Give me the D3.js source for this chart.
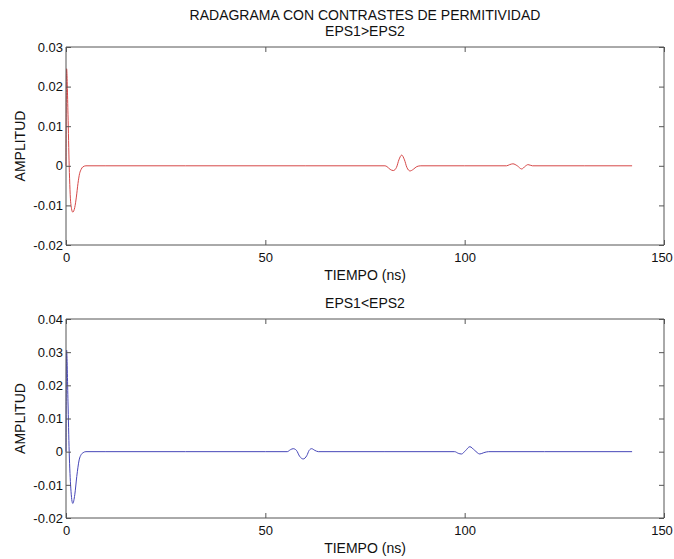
<!DOCTYPE html>
<html>
<head>
<meta charset="utf-8">
<script src="https://cdn.jsdelivr.net/npm/d3@7"></script>
<style>
  html, body { margin: 0; padding: 0; background: #fff; }
  svg { display: block; }
  text { font-family: "Liberation Sans", Arial, sans-serif; fill: #111; }
</style>
</head>
<body>
<svg id="chart" width="674" height="559"></svg>
<script>
// ---- Data ----
const mainTitle = "RADAGRAMA CON CONTRASTES DE PERMITIVIDAD";
const titles = ["EPS1>EPS2", "EPS1<EPS2"];
const xLabel = "TIEMPO (ns)";
const yLabel = "AMPLITUD";
const xTicks = [0, 50, 100, 150];
const yTicksTop = [-0.02, -0.01, 0, 0.01, 0.02, 0.03];
const yTicksBottom = [-0.02, -0.01, 0, 0.01, 0.02, 0.03, 0.04];

// time (ns) samples and amplitudes for EPS1>EPS2 (red)
const timeTop = [0, 0.15, 0.5, 0.8, 1.2, 1.7, 2.2, 2.6, 3.0, 3.4, 3.8, 4.2, 5, 10, 30, 60,
  80, 80.5, 81.3, 82.1, 82.9, 83.5, 84.2, 84.9, 85.5, 86.3, 87.1, 88, 89, 100,
  110.5, 111.3, 112.1, 113.2, 114.3, 115.2, 115.9, 117, 130, 142];
const ampTop = [0.0, 0.0245, 0.013, 0.0, -0.0095, -0.0117, -0.0105, -0.0079, -0.0045, -0.002, -0.0009, -0.0003, 0, 0, 0, 0,
  0, -0.0002, -0.0009, -0.0012, -0.0004, 0.0015, 0.0027, 0.0015, -0.0004, -0.0013, -0.0009, -0.0002, 0, 0,
  0, 0.0003, 0.0005, 0.0, -0.0008, -0.0001, 0.0003, 0, 0, 0];

// time (ns) samples and amplitudes for EPS1<EPS2 (blue)
const timeBottom = [0, 0.15, 0.5, 0.8, 1.2, 1.7, 2.2, 2.7, 3.3, 3.8, 4.3, 5, 10, 30, 50,
  55.5, 56.3, 57, 57.8, 58.6, 59.5, 60.4, 61, 61.6, 62.4, 63.3, 80,
  97.5, 98.4, 99.2, 100.2, 101.3, 102.5, 103.8, 104.8, 106, 120, 142];
const ampBottom = [0.0, 0.0306, 0.015, 0.0, -0.011, -0.0156, -0.013, -0.0075, -0.0025, -0.0009, -0.0003, 0, 0, 0, 0,
  0, 0.0006, 0.0009, 0.0004, -0.0014, -0.0022, -0.0012, 0.0004, 0.0009, 0.0004, 0, 0,
  0, -0.0005, -0.0007, 0.0003, 0.0015, 0.0004, -0.0007, -0.0003, 0, 0, 0];

// ---- Drawing ----
const svg = d3.select("#chart");
const frameColor = "#555";

svg.append("text")
  .attr("x", 365).attr("y", 20)
  .attr("text-anchor", "middle")
  .attr("font-size", 14)
  .text(mainTitle);

const panels = [
  { title: titles[0], top: 47, bottom: 245, yDomain: [-0.02, 0.03], yTicks: yTicksTop,
    t: timeTop, v: ampTop, color: "#d64848" },
  { title: titles[1], top: 319, bottom: 518, yDomain: [-0.02, 0.04], yTicks: yTicksBottom,
    t: timeBottom, v: ampBottom, color: "#4646b8" }
];

const left = 66, right = 664;
const x = d3.scaleLinear().domain([0, 150]).range([left, right]);

panels.forEach(p => {
  const y = d3.scaleLinear().domain(p.yDomain).range([p.bottom, p.top]);
  const g = svg.append("g");
  const fmt = d => (d === 0 ? "0" : String(+d.toFixed(2)));  // ASCII hyphen minus

  // title
  g.append("text")
    .attr("x", (left + right) / 2).attr("y", p.top - 11)
    .attr("text-anchor", "middle").attr("font-size", 14)
    .text(p.title);

  // line
  const pts = p.t.map((t, i) => [t, p.v[i]]);
  g.append("path")
    .datum(pts)
    .attr("fill", "none")
    .attr("stroke", p.color)
    .attr("stroke-width", 1)
    .attr("d", d3.line().x(d => x(d[0])).y(d => y(d[1])).curve(d3.curveMonotoneX));

  // axes with inward ticks (box style)
  const axB = d3.axisBottom(x).tickValues(xTicks).tickSize(-5).tickPadding(8).tickFormat(d => String(d));
  const axT = d3.axisTop(x).tickValues(xTicks).tickSize(-5).tickFormat("");
  const axL = d3.axisLeft(y).tickValues(p.yTicks).tickSize(-5).tickPadding(3).tickFormat(fmt);
  const axR = d3.axisRight(y).tickValues(p.yTicks).tickSize(-5).tickFormat("");

  const styleAxis = sel => {
    sel.select(".domain").attr("stroke", frameColor);
    sel.selectAll(".tick line").attr("stroke", frameColor);
    sel.selectAll(".tick text").attr("font-size", 13).attr("fill", "#111")
      .attr("font-family", "Liberation Sans, Arial, sans-serif");
  };

  g.append("g").attr("transform", `translate(0,${p.bottom})`).call(axB).call(styleAxis)
    .call(s => s.select(".domain").attr("d", `M${left},0H${right}`))
    .call(s => s.selectAll(".tick text").filter(d => d === 150).attr("dx", -2.5));
  g.append("g").attr("transform", `translate(0,${p.top})`).call(axT).call(styleAxis)
    .call(s => s.select(".domain").attr("d", `M${left},0H${right}`));
  g.append("g").attr("transform", `translate(${left},0)`).call(axL).call(styleAxis)
    .call(s => s.select(".domain").attr("d", `M0,${p.top}V${p.bottom}`));
  g.append("g").attr("transform", `translate(${right},0)`).call(axR).call(styleAxis)
    .call(s => s.select(".domain").attr("d", `M0,${p.top}V${p.bottom}`));

  // x label
  g.append("text")
    .attr("x", (left + right) / 2).attr("y", p.bottom + 35)
    .attr("text-anchor", "middle").attr("font-size", 14)
    .text(xLabel);

  // y label
  g.append("text")
    .attr("transform", `translate(25,${(p.top + p.bottom) / 2}) rotate(-90)`)
    .attr("text-anchor", "middle").attr("font-size", 14)
    .text(yLabel);
});
</script>
</body>
</html>
